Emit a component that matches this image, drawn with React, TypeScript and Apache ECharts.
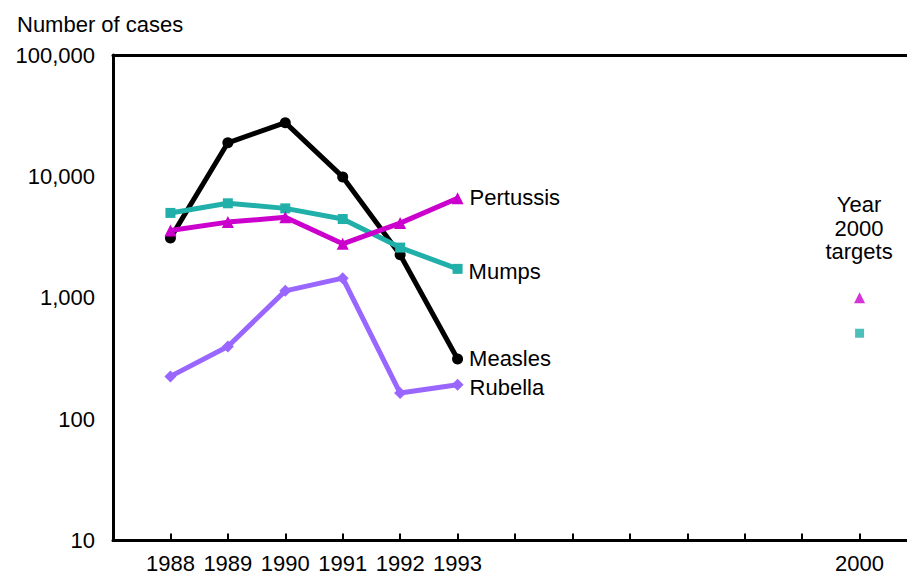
import React, { useEffect, useRef } from "react";
import * as echarts from "echarts";

const years = [1988, 1989, 1990, 1991, 1992, 1993];
const measles = [3100, 18900, 27700, 9900, 2260, 313];
const mumps = [5000, 6000, 5450, 4450, 2590, 1730];
const pertussis = [3580, 4200, 4600, 2780, 4120, 6600];
const rubella = [225, 397, 1140, 1450, 164, 192];
const targetYear = 2000;
const pertussisTarget = 1000;
const mumpsTarget = 510;
const labeledYears = [1988, 1989, 1990, 1991, 1992, 1993, 2000];
const yTicks = [10, 100, 1000, 10000, 100000];

const FONT = "Liberation Sans, Arial, sans-serif";
const FS = 22;

export default function App() {
  const ref = useRef<HTMLDivElement>(null);
  useEffect(() => {
    const chart = echarts.init(ref.current!, null, { renderer: "svg" });
    const pts = (vals: number[]) => years.map((y, i) => [y, vals[i]]);
    const endLabel = (name: string, dy: number) => ({
      show: true,
      formatter: (p: any) => (p.dataIndex === years.length - 1 ? name : ""),
      position: "right",
      distance: 6,
      offset: [0, dy],
      color: "#000",
      fontSize: FS,
      fontFamily: FONT,
    });
    const lineSeries = (
      name: string,
      vals: number[],
      color: string,
      symbol: string,
      size: number,
      dy: number
    ) => ({
      type: "line",
      name,
      data: pts(vals),
      symbol,
      symbolSize: size,
      showAllSymbol: true,
      lineStyle: { color, width: 5 },
      itemStyle: { color, borderWidth: 0 },
      label: endLabel(name, dy),
    });
    chart.setOption({
      animation: false,
      backgroundColor: "#fff",
      textStyle: { fontFamily: FONT },
      title: {
        text: "Number of cases",
        left: 12,
        top: 8,
        textStyle: { fontSize: FS, fontWeight: "normal", color: "#000", fontFamily: FONT },
      },
      grid: {
        left: 113,
        right: 3,
        top: 55,
        bottom: 34.5,
        show: false,
      },
      xAxis: [
        {
          type: "value",
          min: 1987,
          max: 2001,
          interval: 1,
          splitLine: { show: false },
          axisLine: { show: true, lineStyle: { color: "#000", width: 3 } },
          axisTick: { show: true, inside: true, length: 7, lineStyle: { color: "#000", width: 2 } },
          axisLabel: {
            color: "#000",
            fontSize: FS,
            fontFamily: FONT,
            margin: 12,
            formatter: (v: number) => (labeledYears.includes(v) ? String(v) : ""),
          },
        },
        {
          type: "value",
          position: "top",
          min: 1987,
          max: 2001,
          splitLine: { show: false },
          axisLine: { show: true, lineStyle: { color: "#000", width: 3 } },
          axisTick: { show: false },
          axisLabel: { show: false },
        },
      ],
      yAxis: {
        type: "log",
        logBase: 10,
        min: yTicks[0],
        max: yTicks[yTicks.length - 1],
        splitLine: { show: false },
        axisLine: { show: true, lineStyle: { color: "#000", width: 3 } },
        axisTick: { show: false },
        axisLabel: {
          color: "#000",
          fontSize: FS,
          fontFamily: FONT,
          margin: 18,
          formatter: (v: number) => Number(v).toLocaleString("en-US"),
        },
      },
      graphic: [
        {
          type: "text",
          x: 859,
          y: 193,
          style: {
            text: "Year\n2000\ntargets",
            font: `${FS}px ${FONT}`,
            fill: "#000",
            align: "center",
            lineHeight: 23.5,
          },
        },
      ],
      series: [
        lineSeries("Measles", measles, "#000000", "circle", 11, 0),
        lineSeries("Rubella", rubella, "#9966FF", "diamond", 12, 3),
        lineSeries("Mumps", mumps, "#20AFA9", "rect", 10, 3),
        lineSeries("Pertussis", pertussis, "#CC00CC", "triangle", 12, -1),
        {
          type: "scatter",
          name: "Pertussis target",
          data: [[targetYear, pertussisTarget]],
          symbol: "triangle",
          symbolSize: 11,
          itemStyle: { color: "#CC00CC" },
        },
        {
          type: "scatter",
          name: "Mumps target",
          data: [[targetYear, mumpsTarget]],
          symbol: "rect",
          symbolSize: 9,
          itemStyle: { color: "#20AFA9" },
        },
      ],
    });
    return () => chart.dispose();
  }, []);
  return (
    <div
      style={{
        position: "absolute",
        left: 0,
        top: 0,
        width: 907,
        height: 575,
        overflow: "hidden",
      }}
    >
      <div ref={ref} style={{ width: 920, height: 575 }} />
    </div>
  );
}
